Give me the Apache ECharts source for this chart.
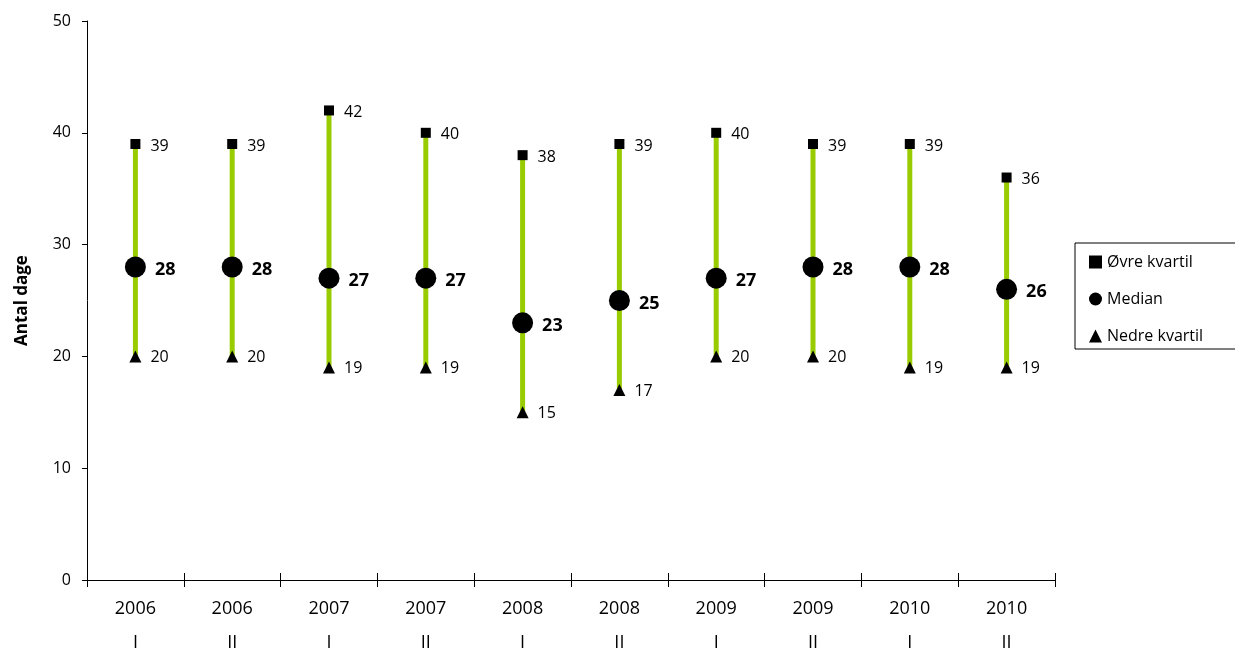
<!DOCTYPE html>
<html>
<head>
<meta charset="utf-8">
<script src="https://cdn.jsdelivr.net/npm/echarts@6/dist/echarts.min.js"></script>
<style>html,body{margin:0;padding:0;background:#fff;overflow:hidden;}#c{width:1235px;height:652px;}</style>
</head>
<body>
<div id="c"></div>
<script>
var categories = ['2006\nI','2006\nII','2007\nI','2007\nII','2008\nI','2008\nII','2009\nI','2009\nII','2010\nI','2010\nII'];
var upper = [39,39,42,40,38,39,40,39,39,36];
var median = [28,28,27,27,23,25,27,28,28,26];
var lower = [20,20,19,19,15,17,20,20,19,19];
var yTicks = [0,10,20,30,40,50];

var range = upper.map(function(u,i){return u - lower[i];});
var FONT = 'Open Sans';
var chart = echarts.init(document.getElementById('c'));
chart.setOption({
  animation:false,
  textStyle:{fontFamily:FONT},
  grid:{left:87,right:180,top:21,bottom:72,containLabel:false,outerBoundsMode:'none'},
  legend:{
    orient:'vertical', left:1075, top:243,
    data:[{name:'Øvre kvartil',icon:'rect'},{name:'Median',icon:'circle'},{name:'Nedre kvartil',icon:'triangle'}],
    itemWidth:13, itemHeight:13, itemGap:21,
    padding:[11,40,5,14],
    borderColor:'#000', borderWidth:1,
    textStyle:{fontFamily:FONT,fontSize:16,color:'#000'}
  },
  xAxis:[{
    type:'category', data:categories,
    axisLine:{lineStyle:{color:'#000',width:1}},
    axisTick:{show:true,length:7,alignWithLabel:false,lineStyle:{color:'#000'}},
    axisLabel:{fontFamily:FONT,fontSize:18,color:'#000',margin:12,lineHeight:34,interval:0}
  },{
    type:'category', data:categories, position:'bottom',
    axisLine:{show:false},
    axisTick:{show:true,inside:true,length:7,lineStyle:{color:'#000'}},
    axisLabel:{show:false}
  }],
  yAxis:{
    type:'value', min:yTicks[0], max:yTicks[yTicks.length-1], interval:10,
    name:'Antal dage', nameLocation:'middle', nameGap:56,
    nameTextStyle:{fontFamily:FONT,fontSize:17,fontWeight:'bold',color:'#000'},
    axisLine:{show:true,lineStyle:{color:'#000',width:1}},
    axisTick:{show:true,length:5,lineStyle:{color:'#000'}},
    splitLine:{show:false},
    axisLabel:{fontFamily:FONT,fontSize:16,color:'#000',margin:16}
  },
  series:[
    {type:'bar',stack:'r',data:lower,barWidth:5,itemStyle:{color:'rgba(0,0,0,0)'},silent:true,legendHoverLink:false},
    {type:'bar',stack:'r',data:range,barWidth:5,itemStyle:{color:'#99cc00'},silent:true},
    {name:'Øvre kvartil',type:'scatter',data:upper,symbol:'rect',symbolSize:10,itemStyle:{color:'#000',opacity:1},z:5,
      label:{show:true,position:'right',distance:10,offset:[0,2],fontFamily:FONT,fontSize:16,color:'#000'}},
    {name:'Median',type:'scatter',data:median,symbol:'circle',symbolSize:21,itemStyle:{color:'#000',opacity:1},z:5,
      label:{show:true,position:'right',distance:9,offset:[0,3],fontFamily:FONT,fontSize:18,fontWeight:'bold',color:'#000'}},
    {name:'Nedre kvartil',type:'scatter',data:lower,symbol:'triangle',symbolSize:12,itemStyle:{color:'#000',opacity:1},z:5,
      label:{show:true,position:'right',distance:9,offset:[0,1],fontFamily:FONT,fontSize:16,color:'#000'}}
  ]
});
</script>
</body>
</html>
